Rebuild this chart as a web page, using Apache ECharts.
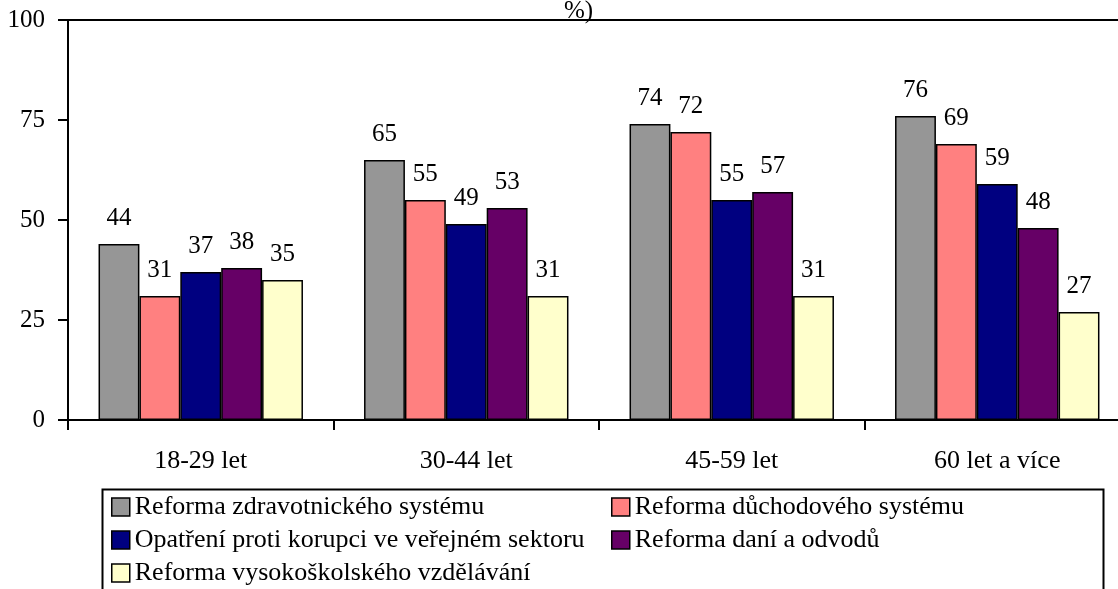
<!DOCTYPE html>
<html>
<head>
<meta charset="utf-8">
<script src="https://cdn.jsdelivr.net/npm/echarts@6/dist/echarts.min.js"></script>
<style>
html,body{margin:0;padding:0;background:#fff;}
#chart{width:1118px;height:589px;}
</style>
</head>
<body>
<div id="chart"></div>
<script>
var categories = ['18-29 let', '30-44 let', '45-59 let', '60 let a více'];
var seriesNames = [
  'Reforma zdravotnického systému',
  'Reforma důchodového systému',
  'Opatření proti korupci ve veřejném sektoru',
  'Reforma daní a odvodů',
  'Reforma vysokoškolského vzdělávání'
];
var healthcare = [44, 65, 74, 76];
var pension = [31, 55, 72, 69];
var corruption = [37, 49, 55, 59];
var taxes = [38, 53, 57, 48];
var university = [35, 31, 31, 27];
var yTicks = [0, 25, 50, 75, 100];
var titleText = '%)';

var colors = ['#969696', '#FF8080', '#000080', '#660066', '#FFFFCC'];
var values = [healthcare, pension, corruption, taxes, university];
var FONT = '"Liberation Serif", "Times New Roman", serif';

var chart = echarts.init(document.getElementById('chart'));
var series = values.map(function (v, i) {
  return {
    name: seriesNames[i],
    type: 'bar',
    data: v,
    barGap: '0%',
    barCategoryGap: '23%',
    itemStyle: { color: colors[i], borderColor: '#000', borderWidth: 1.5 },
    label: {
      show: true, position: 'top', distance: 13,
      color: '#000', fontFamily: FONT, fontSize: 25
    },
    emphasis: { disabled: true }
  };
});

chart.setOption({
  animation: false,
  backgroundColor: '#fff',
  title: {
    text: titleText, left: 564, top: -1, padding: 0,
    textStyle: { fontFamily: FONT, fontSize: 25, fontWeight: 'normal', color: '#000' }
  },
  grid: {
    left: 68, top: 20, width: 1062, height: 400,
    containLabel: false, outerBoundsMode: 'none',
    show: true, borderColor: '#000', borderWidth: 2, backgroundColor: 'transparent'
  },
  xAxis: {
    type: 'category', data: categories,
    axisLine: { show: true, lineStyle: { color: '#000', width: 2 } },
    axisTick: { show: true, length: 10, lineStyle: { color: '#000', width: 2 } },
    axisLabel: { color: '#000', fontFamily: FONT, fontSize: 26, margin: 28 },
    splitLine: { show: false }
  },
  yAxis: {
    type: 'value', min: yTicks[0], max: yTicks[yTicks.length - 1], interval: 25,
    axisLine: { show: true, lineStyle: { color: '#000', width: 2 } },
    axisTick: { show: true, length: 10, lineStyle: { color: '#000', width: 2 } },
    axisLabel: { color: '#000', fontFamily: FONT, fontSize: 25, margin: 23 },
    splitLine: { show: false }
  },
  legend: [
    {
      orient: 'vertical', left: 111, top: 494, padding: 0,
      data: [seriesNames[0], seriesNames[2], seriesNames[4]],
      itemWidth: 18, itemHeight: 18, itemGap: 7,
      icon: 'rect', selectedMode: false,
      itemStyle: { borderColor: '#000', borderWidth: 1.5 },
      textStyle: { fontFamily: FONT, fontSize: 26, lineHeight: 26, color: '#000' }
    },
    {
      orient: 'vertical', left: 611, top: 494, padding: 0,
      data: [seriesNames[1], seriesNames[3]],
      itemWidth: 18, itemHeight: 18, itemGap: 7,
      icon: 'rect', selectedMode: false,
      itemStyle: { borderColor: '#000', borderWidth: 1.5 },
      textStyle: { fontFamily: FONT, fontSize: 26, lineHeight: 26, color: '#000' }
    }
  ],
  graphic: [{
    type: 'rect', left: 100, top: 487,
    shape: { width: 1001, height: 150 },
    style: { fill: 'none', stroke: '#000', lineWidth: 2 },
    silent: true
  }],
  series: series
});
</script>
</body>
</html>
